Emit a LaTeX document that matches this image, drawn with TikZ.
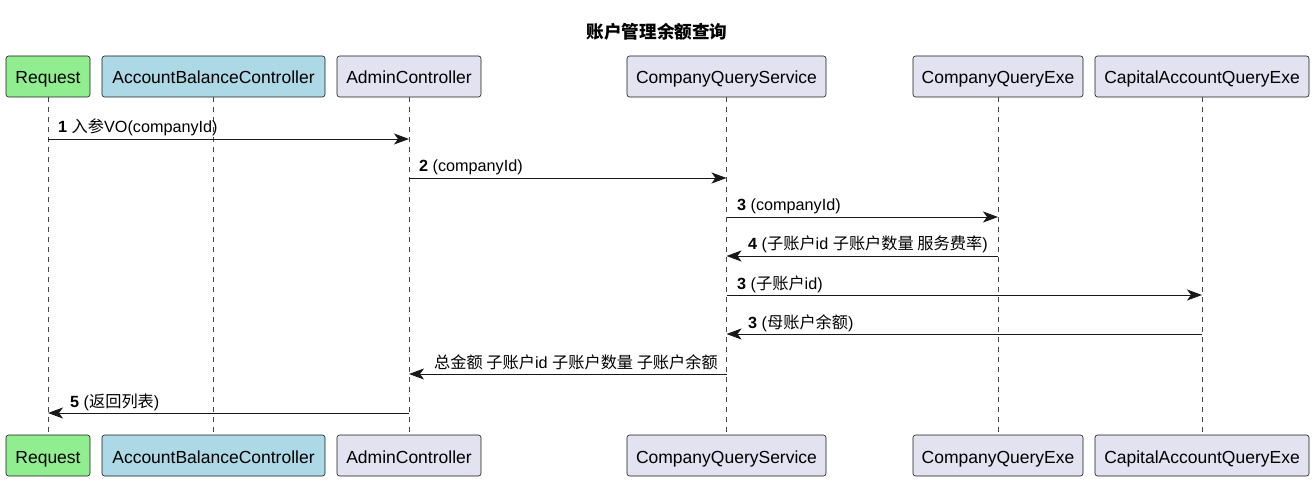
\documentclass[tikz,border=0pt]{standalone}
\usepackage{fontspec}
\setmainfont{Liberation Sans}
\newfontfamily\cjk{Noto Sans CJK SC}
\usetikzlibrary{arrows.meta}

\definecolor{reqgreen}{HTML}{90EE90}
\definecolor{ctrlblue}{HTML}{ADD8E6}
\definecolor{partgray}{HTML}{E2E2F0}
\definecolor{edgecol}{HTML}{181818}

\newcommand{\zh}[1]{{\cjk #1}}

\tikzset{
  actor/.style={draw=edgecol, rounded corners=2.5pt, minimum height=41pt, inner sep=0pt,
    text height=15pt, text depth=0pt,
    font=\fontsize{17.5}{20}\selectfont, line width=0.6pt},
  lifeline/.style={draw=edgecol!80, dash pattern=on 5pt off 5pt, line width=0.6pt},
  msg/.style={draw=edgecol, line width=0.9pt, -{Stealth[length=15pt,width=11pt,inset=4pt]}},
  msgtext/.style={font=\fontsize{16.2}{18}\selectfont, inner sep=0pt},
}

\begin{document}
\begin{tikzpicture}[x=1pt,y=-1pt]

\useasboundingbox (0,0) rectangle (1315,481);

\node[font=\cjk\bfseries\fontsize{17.6}{20}\selectfont] (title) at (657,31.5) {账户管理余额查询};

% participants, top and bottom
\foreach \name/\xcoord/\boxw/\col/\txt in {req/48/84/reqgreen/Request,
    abc/213.5/223/ctrlblue/AccountBalanceController,
    adm/409/144/partgray/AdminController,
    cqs/726.5/199/partgray/CompanyQueryService,
    cqe/998/170/partgray/CompanyQueryExe,
    caq/1202/214/partgray/CapitalAccountQueryExe} {
	\node[actor, fill=\col, minimum width=\boxw pt] (\name top) at (\xcoord,76.5) {\txt};
	\node[actor, fill=\col, minimum width=\boxw pt] (\name bot) at (\xcoord,455.5) {\txt};
	\draw[lifeline] (\name top.south) -- (\name bot.north);
}

% messages
\draw[msg] (reqtop |- 0,139) -- (admtop |- 0,139);
\node[msgtext, anchor=base west] (l1) at (58,133) {\textbf{1} \zh{入参}VO(companyId)};

\draw[msg] (admtop |- 0,178) -- (cqstop |- 0,178);
\node[msgtext, anchor=base west] (l2) at (419,172) {\textbf{2} (companyId)};

\draw[msg] (cqstop |- 0,217) -- (cqetop |- 0,217);
\node[msgtext, anchor=base west] (l3) at (737,211) {\textbf{3} (companyId)};

\draw[msg] (cqetop |- 0,256) -- (cqstop |- 0,256);
\node[msgtext, anchor=base west] (l4) at (748,250) {\textbf{4} (\zh{子账户}id \zh{子账户数量 服务费率})};

\draw[msg] (cqstop |- 0,295) -- (caqtop |- 0,295);
\node[msgtext, anchor=base west] (l5) at (737,289) {\textbf{3} (\zh{子账户}id)};

\draw[msg] (caqtop |- 0,334) -- (cqstop |- 0,334);
\node[msgtext, anchor=base west] (l6) at (748,328) {\textbf{3} (\zh{母账户余额})};

\draw[msg] (cqstop |- 0,374) -- (admtop |- 0,374);
\node[msgtext, anchor=base east] (l7) at (718,368) {\zh{总金额 子账户}id \zh{子账户数量 子账户余额}};

\draw[msg] (admtop |- 0,413) -- (reqtop |- 0,413);
\node[msgtext, anchor=base west] (l8) at (70,407) {\textbf{5} (\zh{返回列表})};

\end{tikzpicture}
\end{document}
